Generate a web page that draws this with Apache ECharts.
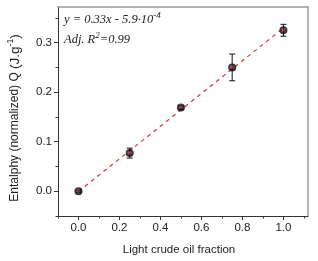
<!DOCTYPE html>
<html><head><meta charset="utf-8">
<script src="https://cdn.jsdelivr.net/npm/echarts@6/dist/echarts.min.js"></script>
<style>html,body{margin:0;padding:0;background:#fff}#c{width:318px;height:261px}</style>
</head><body><div id="c"></div>
<script>
var fractions = [0.0, 0.25, 0.5, 0.75, 1.0];
var enthalpy = [0.0, 0.077, 0.169, 0.250, 0.325];
var errors = [0.002, 0.010, 0.003, 0.027, 0.012];
var fitX = [0.0, 1.0];
var fitY = [-0.00059, 0.32941];
var xTicks = [0.0, 0.2, 0.4, 0.6, 0.8, 1.0];
var xMinor = [-0.1, 0.1, 0.3, 0.5, 0.7, 0.9, 1.1];
var yTicks = [0.0, 0.1, 0.2, 0.3];
var yMinor = [-0.05, 0.05, 0.15, 0.25, 0.35];

var chart = echarts.init(document.getElementById('c'));
var font = 'Liberation Sans, Arial, sans-serif';
var serif = 'Liberation Serif, Times New Roman, serif';
var pts = fractions.map(function (x, i) { return [x, enthalpy[i]]; });
var errData = fractions.map(function (x, i) { return [x, enthalpy[i] - errors[i], enthalpy[i] + errors[i]]; });
var fitData = fitX.map(function (x, i) { return [x, fitY[i]]; });

var axisCol = '#333';
chart.setOption({
  animation: false,
  grid: { left: 58, top: 7, right: 10, bottom: 45 },
  xAxis: [
    { type: 'value', min: -0.1, max: 1.12, position: 'bottom',
      splitLine: { show: false },
      axisLine: { onZero: false, lineStyle: { color: axisCol, width: 1 } },
      axisTick: { show: true, length: 4, customValues: xTicks, lineStyle: { color: axisCol } },
      axisLabel: { customValues: xTicks, color: '#222', fontSize: 11.5, fontFamily: font, margin: 6,
        formatter: function (v) { return v.toFixed(1); } } },
    { type: 'value', min: -0.1, max: 1.12, position: 'bottom',
      splitLine: { show: false }, axisLine: { show: false, onZero: false },
      axisTick: { show: true, length: 2.5, customValues: xMinor, lineStyle: { color: axisCol } },
      axisLabel: { show: false } },
    { type: 'value', min: -0.1, max: 1.12, position: 'top',
      splitLine: { show: false },
      axisLine: { show: true, onZero: false, lineStyle: { color: '#999', width: 1.5 } },
      axisTick: { show: false }, axisLabel: { show: false } }
  ],
  yAxis: [
    { type: 'value', min: -0.05, max: 0.372, position: 'left',
      splitLine: { show: false },
      axisLine: { show: true, onZero: false, lineStyle: { color: axisCol, width: 1 } },
      axisTick: { show: true, length: 4, customValues: yTicks, lineStyle: { color: axisCol } },
      axisLabel: { customValues: yTicks, color: '#222', fontSize: 11.5, fontFamily: font, margin: 6,
        formatter: function (v) { return v.toFixed(1); } } },
    { type: 'value', min: -0.05, max: 0.372, position: 'left',
      splitLine: { show: false }, axisLine: { show: false, onZero: false },
      axisTick: { show: true, length: 2.5, customValues: yMinor, lineStyle: { color: axisCol } },
      axisLabel: { show: false } },
    { type: 'value', min: -0.05, max: 0.372, position: 'right',
      splitLine: { show: false },
      axisLine: { show: true, onZero: false, lineStyle: { color: '#999', width: 1.5 } },
      axisTick: { show: false }, axisLabel: { show: false } }
  ],
  series: [
    { type: 'line', data: fitData, symbol: 'none', z: 2,
      lineStyle: { color: '#e03030', width: 1.2, type: [4, 4] } },
    { type: 'custom', data: errData, z: 3,
      renderItem: function (params, api) {
        var x = api.value(0);
        var lo = api.coord([x, api.value(1)]);
        var hi = api.coord([x, api.value(2)]);
        var w = 3;
        var st = { stroke: '#111', lineWidth: 1 };
        return { type: 'group', children: [
          { type: 'line', shape: { x1: lo[0], y1: lo[1], x2: hi[0], y2: hi[1] }, style: st },
          { type: 'line', shape: { x1: lo[0] - w, y1: lo[1], x2: lo[0] + w, y2: lo[1] }, style: st },
          { type: 'line', shape: { x1: hi[0] - w, y1: hi[1], x2: hi[0] + w, y2: hi[1] }, style: st }
        ] };
      } },
    { type: 'scatter', data: pts, symbolSize: 8, z: 4,
      itemStyle: { color: new echarts.graphic.RadialGradient(0.45, 0.45, 0.55, [
        { offset: 0, color: '#e03a50' }, { offset: 0.25, color: '#a02030' }, { offset: 0.5, color: '#111' }, { offset: 1, color: '#000' }]) } }
  ],
  graphic: [
    { type: 'text', left: 64, top: 11, style: {
      text: '{i|y = 0.33x - 5.9·10}{s|-4}',
      rich: { i: { fontFamily: serif, fontStyle: 'italic', fontSize: 12.5, fill: '#222', verticalAlign: 'bottom', lineHeight: 15 },
              s: { fontFamily: serif, fontStyle: 'italic', fontSize: 9, fill: '#222', verticalAlign: 'top', lineHeight: 15, padding: [0, 0, 7, 0] } } } },
    { type: 'text', left: 64, top: 31, style: {
      text: '{i|Adj. R}{s|2}{i|=0.99}',
      rich: { i: { fontFamily: serif, fontStyle: 'italic', fontSize: 12.5, fill: '#222', verticalAlign: 'bottom', lineHeight: 15 },
              s: { fontFamily: serif, fontStyle: 'italic', fontSize: 9, fill: '#222', verticalAlign: 'top', lineHeight: 15, padding: [0, 0, 7, 0] } } } },
    { type: 'text', x: 179, y: 250, style: {
      text: 'Light crude oil fraction', align: 'center', verticalAlign: 'middle',
      fontFamily: font, fontSize: 11.5, fill: '#222' } },
    { type: 'text', x: 15, y: 118, rotation: Math.PI / 2, style: {
      text: '{n|Entalphy (normalized) Q }{b|(J.g}{s|-1}{b|)}',
      align: 'center', verticalAlign: 'middle',
      rich: { n: { fontFamily: font, fontSize: 12, fill: '#222' },
              b: { fontFamily: font, fontSize: 13.5, fill: '#222' },
              s: { fontFamily: font, fontSize: 8.5, fill: '#222', padding: [0, 0, 9, 0] } } } }
  ]
});
</script></body></html>
